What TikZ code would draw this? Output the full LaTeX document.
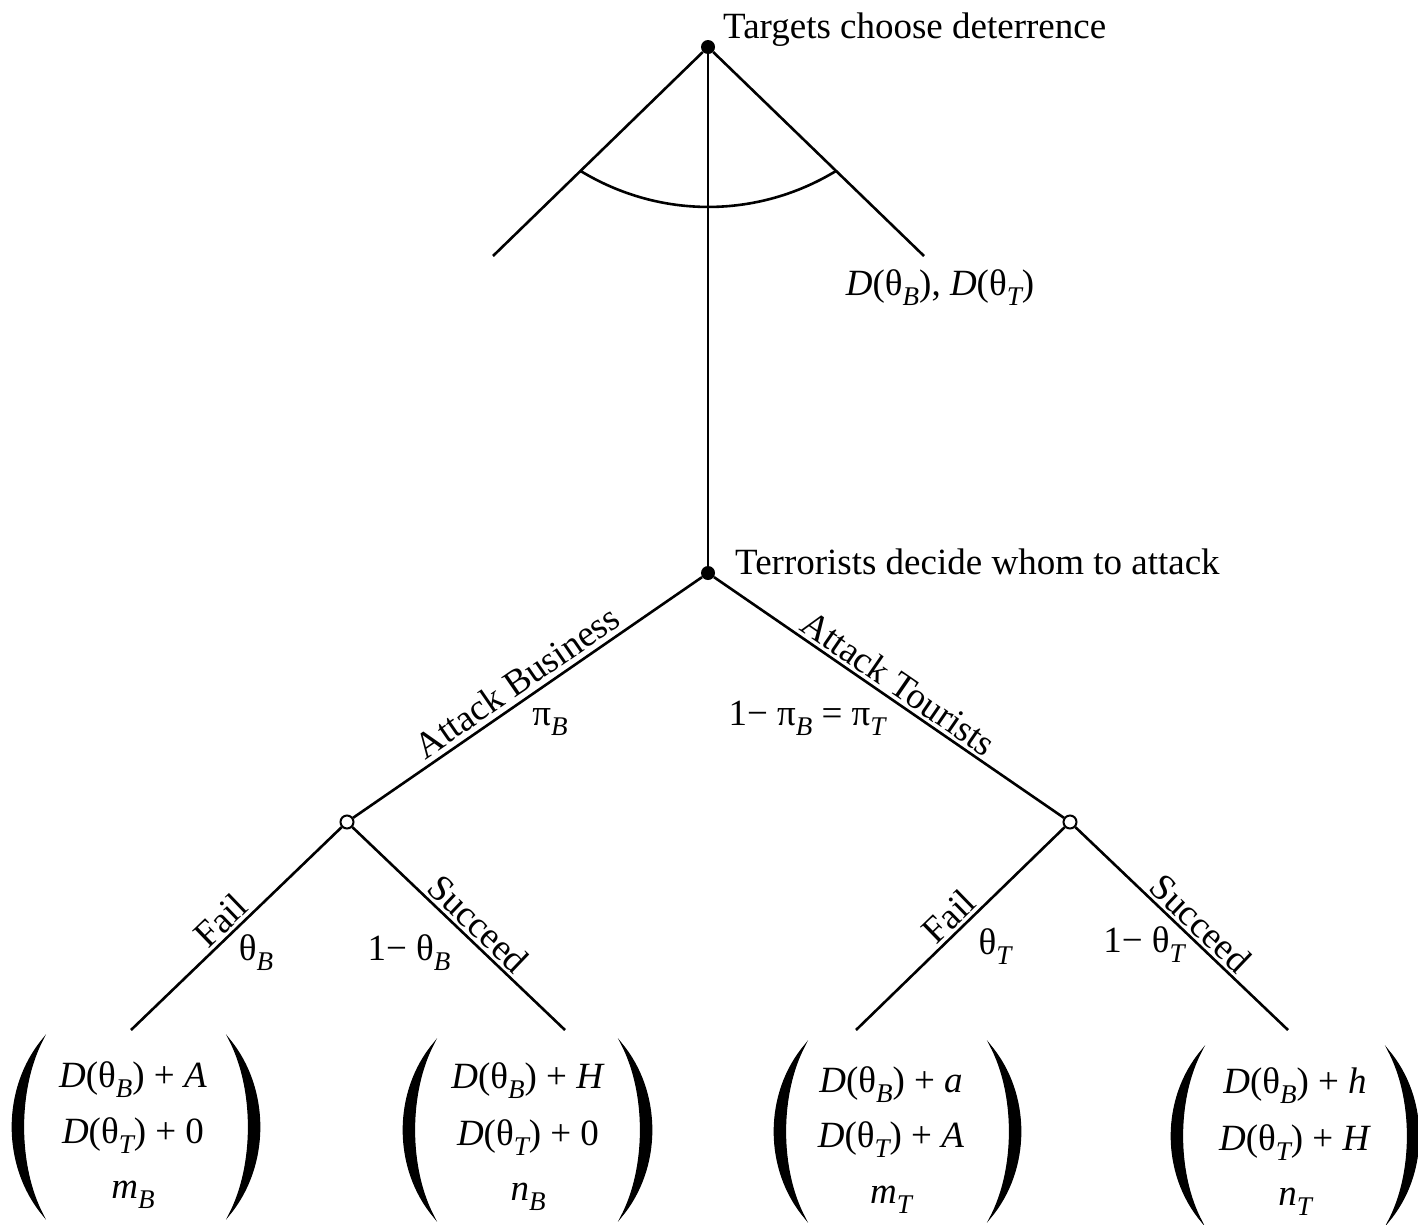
\documentclass[tikz,border=0pt]{standalone}
\usepackage{fontspec}
\setmainfont{Liberation Serif}
\usetikzlibrary{calc}
\newcommand{\sbs}[1]{\raisebox{-0.28em}{\fontsize{27}{27}\selectfont\itshape #1}}
\newcommand{\myLP}[3]{\filldraw[line width=1.2pt] ({#1},{#2}) .. controls ({#1-41},{#2+0.28*(#3-#2)}) and ({#1-41},{#3-0.28*(#3-#2)}) .. ({#1},{#3}) .. controls ({#1-26},{#3-0.28*(#3-#2)}) and ({#1-26},{#2+0.28*(#3-#2)}) .. ({#1},{#2}) -- cycle;}
\newcommand{\myRP}[3]{\filldraw[line width=1.2pt] ({#1},{#2}) .. controls ({#1+41},{#2+0.28*(#3-#2)}) and ({#1+41},{#3-0.28*(#3-#2)}) .. ({#1},{#3}) .. controls ({#1+26},{#3-0.28*(#3-#2)}) and ({#1+26},{#2+0.28*(#3-#2)}) .. ({#1},{#2}) -- cycle;}
\begin{document}
\begin{tikzpicture}[x=1pt,y=-1pt]
\tikzset{
  every node/.style={font=\fontsize{37}{44}\selectfont},
  branch/.style={line width=2.6pt},
  blackdot/.style={circle, fill=black, inner sep=0pt, minimum size=14pt},
  whitedot/.style={circle, draw=black, fill=white, line width=2pt, inner sep=0pt, minimum size=13pt},
  slab/.style={sloped, above, inner sep=4pt},
  plab/.style={anchor=base, inner sep=0pt},
}
\useasboundingbox[fill=white] (0,0) rectangle (1418,1224);

\coordinate (tl) at (493,256);
\coordinate (tr) at (924,256);
\node[blackdot] (top) at (708,47) {};
\node[blackdot] (mid) at (708,573) {};
\node[whitedot] (cb) at (347,822) {};
\node[whitedot] (ct) at (1070,822) {};
\coordinate (l1) at (131,1030);
\coordinate (l2) at (565,1030);
\coordinate (l3) at (856,1030);
\coordinate (l4) at (1288,1030);

\draw[branch] (top) -- (tl);
\draw[branch] (top) -- (tr);
\draw[branch] (top) -- (mid);
\draw[branch] (mid) -- (cb);
\draw[branch] (mid) -- (ct);
\draw[branch] (cb) -- (l1);
\draw[branch] (cb) -- (l2);
\draw[branch] (ct) -- (l3);
\draw[branch] (ct) -- (l4);

\coordinate (a1) at ($(top.center)!0.593!(tl)$);
\coordinate (a2) at ($(top.center)!0.593!(tr)$);
\draw[branch] (a1) .. controls ($(a1)+(79,48)$) and ($(a2)+(-79,48)$) .. (a2);

\path (cb) -- node[slab, pos=0.5, inner sep=6pt] (lAB) {Attack Business} (mid);
\path (mid) -- node[slab, pos=0.5] (lAT) {Attack Tourists} (ct);
\path (l1) -- node[slab, pos=0.48] (lF1) {Fail} (cb);
\path (cb) -- node[slab, pos=0.537] (lS1) {Succeed} (l2);
\path (l3) -- node[slab, pos=0.5] (lF2) {Fail} (ct);
\path (ct) -- node[slab, pos=0.535] (lS2) {Succeed} (l4);

\node[plab, anchor=base west] (tc) at (723,38) {Targets choose deterrence};
\node[plab, anchor=base west] (td) at (735,574) {Terrorists decide whom to attack};
\node[plab] (dl) at (940,295) {\textit{D}(θ\sbs{B}), \textit{D}(θ\sbs{T})};
\node[plab] (piB) at (550,725) {π\sbs{B}};
\node[plab] (piT) at (807,725) {1− π\sbs{B} = π\sbs{T}};
\node[plab] (thB) at (256,960) {θ\sbs{B}};
\node[plab] (thB2) at (409,960) {1− θ\sbs{B}};
\node[plab] (thT) at (995,954) {θ\sbs{T}};
\node[plab] (thT2) at (1144,952) {1− θ\sbs{T}};

\node[plab] (p1a) at (133,1087) {\textit{D}(θ\sbs{B}) + \textit{A}};
\node[plab] (p1b) at (133,1143) {\textit{D}(θ\sbs{T}) + 0};
\node[plab] (p1c) at (133,1198) {\textit{m}\sbs{B}};
\node[plab] (p2a) at (528,1088) {\textit{D}(θ\sbs{B}) + \textit{H}};
\node[plab] (p2b) at (528,1145) {\textit{D}(θ\sbs{T}) + 0};
\node[plab] (p2c) at (528,1200) {\textit{n}\sbs{B}};
\node[plab] (p3a) at (891,1092) {\textit{D}(θ\sbs{B}) + \textit{a}};
\node[plab] (p3b) at (891,1147) {\textit{D}(θ\sbs{T}) + \textit{A}};
\node[plab] (p3c) at (891,1203) {\textit{m}\sbs{T}};
\node[plab] (p4a) at (1295,1093) {\textit{D}(θ\sbs{B}) + \textit{h}};
\node[plab] (p4b) at (1295,1150) {\textit{D}(θ\sbs{T}) + \textit{H}};
\node[plab] (p4c) at (1295,1205) {\textit{n}\sbs{T}};

\myLP{43}{1039}{1215} \myRP{229}{1039}{1215}
\myLP{434}{1043}{1217} \myRP{621}{1043}{1217}
\myLP{805}{1045}{1218} \myRP{990}{1045}{1218}
\myLP{1202}{1050}{1222} \myRP{1388}{1050}{1222}
\end{tikzpicture}
\end{document}
